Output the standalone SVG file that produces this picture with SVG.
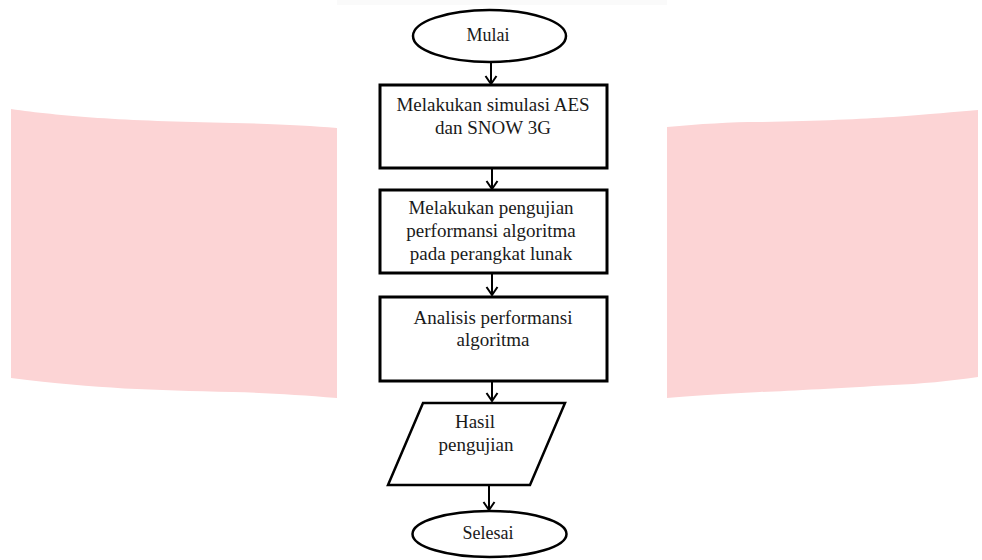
<svg xmlns="http://www.w3.org/2000/svg" width="982" height="560" viewBox="0 0 982 560">
  <style>
    .shape { fill: #ffffff; stroke: #000000; }
    .box { stroke-width: 3; }
    .term { stroke-width: 2.5; }
    .lbl { font-family: "Liberation Serif", "Times New Roman", serif; font-size: 19px; fill: #1a1a1a; text-anchor: middle; }
    .tlbl { font-size: 18px; }
    .conn { stroke: #000000; stroke-width: 2; fill: none; }
    .bg { fill: #fcd4d5; stroke: none; }
  </style>
  <defs>
    <marker id="arrow" markerUnits="userSpaceOnUse" viewBox="-1 -7 11 14" refX="8" refY="0" markerWidth="11" markerHeight="14" orient="auto">
      <path d="M0,-5.5 L8,0 L0,5.5" fill="none" stroke="#000000" stroke-width="2"/>
    </marker>
  </defs>

  <rect x="0" y="0" width="982" height="560" fill="#ffffff"/>
  <g id="background">
    <rect x="337" y="0" width="330" height="5" fill="#fafafa"/>
    <path class="bg" d="M11,109 C60,116 120,121 233,123 C280,124 310,126 337,128 L337,398 C300,395 270,393 233,392 C150,390 100,389 11,378 Z"/>
    <path class="bg" d="M667,127 C700,124 730,122 760,122 C820,121 860,119 893,117 C930,114 955,112 978,110 L978,377 C950,381 920,384 893,385 C840,388 790,391 760,392 C720,394 690,396 667,398 Z"/>
  </g>

  <g id="connectors">
    <line class="conn" x1="491" y1="62" x2="491" y2="84" marker-end="url(#arrow)"/>
    <line class="conn" x1="492" y1="168" x2="492" y2="189" marker-end="url(#arrow)"/>
    <line class="conn" x1="492" y1="273" x2="492" y2="295" marker-end="url(#arrow)"/>
    <line class="conn" x1="492" y1="381" x2="492" y2="401" marker-end="url(#arrow)"/>
    <line class="conn" x1="489" y1="485" x2="489" y2="510" marker-end="url(#arrow)"/>
  </g>

  <g id="start">
    <ellipse class="shape term" cx="489.5" cy="36" rx="76.5" ry="26"/>
    <text class="lbl tlbl" x="488" y="41">Mulai</text>
  </g>

  <g id="simulasi">
    <rect class="shape box" x="380" y="85" width="227" height="83"/>
    <text class="lbl" x="493" y="111">Melakukan simulasi AES</text>
    <text class="lbl" x="493" y="134">dan SNOW 3G</text>
  </g>

  <g id="pengujian">
    <rect class="shape box" x="380" y="190" width="227" height="83"/>
    <text class="lbl" x="491" y="214">Melakukan pengujian</text>
    <text class="lbl" x="491" y="237">performansi algoritma</text>
    <text class="lbl" x="491" y="260">pada perangkat lunak</text>
  </g>

  <g id="analisis">
    <rect class="shape box" x="380" y="297" width="227" height="84"/>
    <text class="lbl" x="493" y="324">Analisis performansi</text>
    <text class="lbl" x="493" y="346">algoritma</text>
  </g>

  <g id="hasil">
    <polygon class="shape term" points="423,403 565,403 530,485 388,485"/>
    <text class="lbl" x="475" y="428">Hasil</text>
    <text class="lbl" x="476" y="451">pengujian</text>
  </g>

  <g id="end">
    <ellipse class="shape term" cx="489.5" cy="534" rx="77" ry="23"/>
    <text class="lbl tlbl" x="488" y="539">Selesai</text>
  </g>
</svg>
